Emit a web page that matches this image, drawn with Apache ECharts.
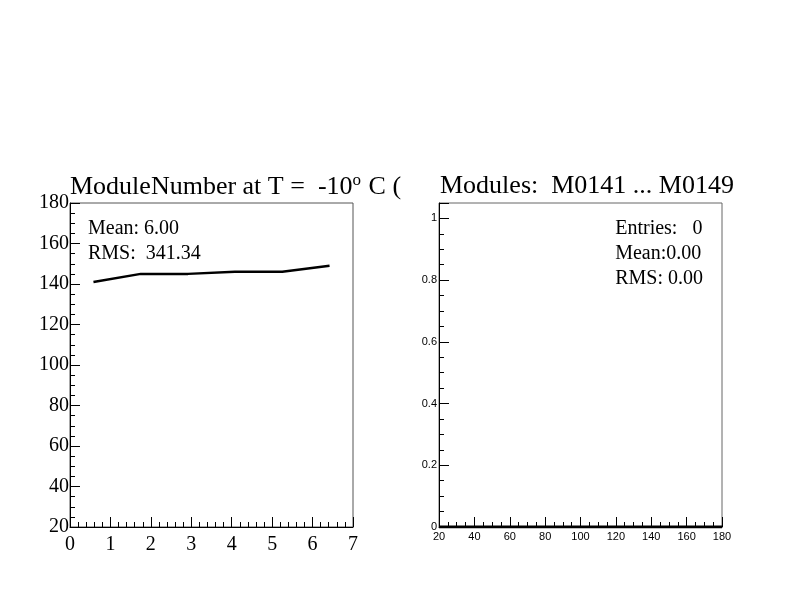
<!DOCTYPE html>
<html>
<head>
<meta charset="utf-8">
<script src="https://cdn.jsdelivr.net/npm/echarts@6/dist/echarts.min.js"></script>
<style>html,body{margin:0;padding:0;background:#fff}#c{width:792px;height:612px}</style>
</head>
<body>
<div id="c"></div>
<script>
// ---- data ----
const leftX = [0.58, 1.75, 2.92, 4.08, 5.25, 6.42];
const leftY = [141, 145, 145, 146, 146, 149];
const rightBinEdges = [20, 30, 40, 50, 60, 70, 80, 90, 100, 110, 120, 130, 140, 150, 160, 170, 180];
const rightCounts = [0, 0, 0, 0, 0, 0, 0, 0, 0, 0, 0, 0, 0, 0, 0, 0, 0];
const leftTitle = 'ModuleNumber at T =  -10';
const rightTitle = 'Modules:  M0141 ... M0149';
const leftStats = ['Mean: 6.00', 'RMS:  341.34'];
const rightStats = ['Entries:   0', 'Mean:0.00', 'RMS: 0.00'];

const serif = '"Liberation Serif", "DejaVu Serif", serif';
const sans = '"Liberation Sans", "DejaVu Sans", sans-serif';

const chart = echarts.init(document.getElementById('c'), null, {renderer: 'canvas'});

function axisCommon(fontFamily, fontSize, labelMargin) {
  return {
    axisLine: {show: true, onZero: false, lineStyle: {color: '#000', width: 1}},
    axisTick: {show: true, inside: true, length: 10, lineStyle: {color: '#000'}},
    minorTick: {show: true, length: 5, lineStyle: {color: '#000'}},
    splitLine: {show: false},
    axisLabel: {color: '#000', fontFamily: fontFamily, fontSize: fontSize, margin: labelMargin}
  };
}

const option = {
  animation: false,
  backgroundColor: '#fff',
  title: [
    {
      text: '{a|' + leftTitle + '}{s|o}{a| C (}',
      left: 70, top: 172, padding: 0,
      textStyle: {
        fontWeight: 'normal',
        rich: {
          a: {fontFamily: serif, fontSize: 26, fontWeight: 'normal', color: '#000', verticalAlign: 'bottom', lineHeight: 28},
          s: {fontFamily: serif, fontSize: 17, fontWeight: 'normal', color: '#000', verticalAlign: 'top', lineHeight: 28, padding: [0, 1, 15, 0]}
        }
      }
    },
    {
      text: rightTitle, left: 440, top: 172, padding: 0,
      textStyle: {fontFamily: serif, fontSize: 26, fontWeight: 'normal', color: '#000', lineHeight: 28}
    }
  ],
  grid: [
    {left: 70, top: 203, width: 283, height: 324, show: true, borderColor: '#555', borderWidth: 1, backgroundColor: '#fff'},
    {left: 439, top: 203, width: 283, height: 324, show: true, borderColor: '#666', borderWidth: 1, backgroundColor: '#fff'}
  ],
  xAxis: [
    Object.assign(axisCommon(serif, 20, 8), {
      gridIndex: 0, type: 'value', min: 0, max: 7, interval: 1,
      minorTick: {show: true, splitNumber: 5, length: 5, lineStyle: {color: '#000'}}
    }),
    Object.assign(axisCommon(sans, 11, 4), {
      gridIndex: 1, type: 'value', min: 20, max: 180, interval: 20,
      minorTick: {show: true, splitNumber: 4, length: 5, lineStyle: {color: '#000'}}
    })
  ],
  yAxis: [
    Object.assign(axisCommon(serif, 20, 1), {
      gridIndex: 0, type: 'value', min: 20, max: 180, interval: 20,
      minorTick: {show: true, splitNumber: 4, length: 5, lineStyle: {color: '#000'}}
    }),
    Object.assign(axisCommon(sans, 11, 2), {
      gridIndex: 1, type: 'value', min: 0, max: 1.05, interval: 0.2,
      minorTick: {show: true, splitNumber: 4, length: 5, lineStyle: {color: '#000'}},
      axisLabel: {color: '#000', fontFamily: sans, fontSize: 11, margin: 2, showMaxLabel: false,
        formatter: function (v) { return Math.abs(v * 5 - Math.round(v * 5)) < 1e-6 ? String(+v.toFixed(1)) : ''; }}
    })
  ],
  series: [
    {
      type: 'line', xAxisIndex: 0, yAxisIndex: 0,
      data: leftX.map((x, i) => [x, leftY[i]]),
      symbol: 'none', lineStyle: {color: '#000', width: 2.5}
    },
    {
      type: 'line', xAxisIndex: 1, yAxisIndex: 1, step: 'end',
      data: rightBinEdges.map((x, i) => [x, i < rightCounts.length ? rightCounts[i] : rightCounts[rightCounts.length - 1]]),
      symbol: 'none', lineStyle: {color: '#000', width: 3}, z: 5
    }
  ],
  graphic: [
    {type: 'text', left: 88, top: 216, style: {text: leftStats.join('\n'), font: '20px ' + serif, fill: '#000', lineHeight: 25}},
    {type: 'text', right: 89, top: 216, style: {text: rightStats.join('\n'), font: '20px ' + serif, fill: '#000', lineHeight: 25, align: 'right'}}
  ]
};
chart.setOption(option);
</script>
</body>
</html>
